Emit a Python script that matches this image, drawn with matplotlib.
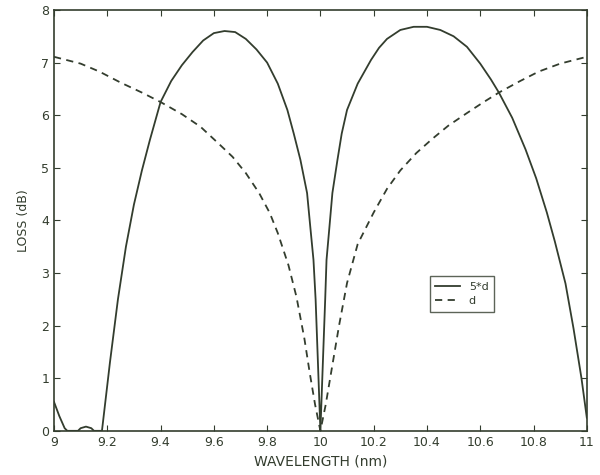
import matplotlib
matplotlib.use("Agg")
import matplotlib.pyplot as plt

wl_d = [9.00, 9.10, 9.17, 9.25, 9.33, 9.40, 9.48, 9.55, 9.62, 9.67, 9.72, 9.77,
        9.81, 9.84, 9.88, 9.91, 9.94, 9.96, 9.98, 10.00, 10.02, 10.04, 10.07,
        10.10, 10.14, 10.20, 10.25, 10.30, 10.36, 10.42, 10.48, 10.55, 10.61,
        10.67, 10.75, 10.82, 10.90, 11.00]
loss_d = [7.11, 6.98, 6.83, 6.62, 6.43, 6.25, 6.02, 5.78, 5.45, 5.21, 4.90, 4.52,
          4.14, 3.76, 3.15, 2.55, 1.75, 1.10, 0.50, 0.00, 0.50, 1.10, 2.00,
          2.81, 3.55, 4.15, 4.60, 4.95, 5.28, 5.55, 5.80, 6.04, 6.24,
          6.43, 6.65, 6.83, 6.98, 7.11]

wl_5d = [9.00, 9.02, 9.04, 9.05, 9.09, 9.10, 9.12, 9.14, 9.15, 9.18, 9.21, 9.24,
         9.27, 9.30, 9.33, 9.36, 9.40, 9.44, 9.48, 9.52, 9.56, 9.60, 9.64, 9.68,
         9.72, 9.76, 9.80, 9.84, 9.876, 9.90, 9.925, 9.95, 9.962, 9.974, 9.982,
         9.99, 10.00, 10.01, 10.018, 10.023, 10.034, 10.045, 10.064, 10.08,
         10.10, 10.14, 10.19, 10.22, 10.25, 10.30, 10.35, 10.40, 10.45, 10.50,
         10.55, 10.60, 10.64, 10.67, 10.72, 10.77, 10.81, 10.85, 10.88, 10.92,
         10.95, 10.98, 11.00]
loss_5d = [0.55, 0.28, 0.05, 0.00, 0.00, 0.05, 0.08, 0.05, 0.00, 0.00, 1.30, 2.50,
           3.50, 4.30, 4.95, 5.53, 6.25, 6.65, 6.95, 7.20, 7.42, 7.56, 7.60, 7.58,
           7.45, 7.25, 7.00, 6.60, 6.10, 5.65, 5.15, 4.52, 3.88, 3.25, 2.50,
           1.40, 0.00, 1.40, 2.50, 3.25, 3.88, 4.52, 5.15, 5.65,
           6.10, 6.60, 7.05, 7.28, 7.45, 7.62, 7.68, 7.68, 7.62, 7.50,
           7.30, 6.98, 6.68, 6.43, 5.95, 5.35, 4.80, 4.15, 3.60, 2.80,
           1.95, 1.00, 0.25]

xticks = [9, 9.2, 9.4, 9.6, 9.8, 10, 10.2, 10.4, 10.6, 10.8, 11]
xticklabels = ["9", "9.2", "9.4", "9.6", "9.8", "10", "10.2", "10.4", "10.6", "10.8", "11"]

ink = "#333d2e"

fig = plt.figure(figsize=(6, 4.75), dpi=100)
ax = fig.add_axes([0.09, 0.093, 0.888, 0.886])

ax.plot(wl_5d, loss_5d, "-", color=ink, lw=1.3, label="5*d")
ax.plot(wl_d, loss_d, "--", color=ink, lw=1.3, dashes=(4, 3), label="d")

ax.set_xlim(9, 11)
ax.set_ylim(0, 8)
ax.set_xticks(xticks)
ax.set_xticklabels(xticklabels)
ax.set_yticks(range(0, 9))
ax.tick_params(direction="in", top=True, right=True, length=4,
               color=ink, labelcolor=ink, labelsize=9)
for s in ax.spines.values():
    s.set_color(ink)
    s.set_linewidth(1.2)

ax.set_xlabel("WAVELENGTH (nm)", color=ink, fontsize=10, labelpad=4)
ax.set_ylabel("LOSS (dB)", color=ink, fontsize=9, labelpad=8)

leg = ax.legend(loc="lower left", bbox_to_anchor=(0.695, 0.27), fontsize=8,
                frameon=True, fancybox=False, edgecolor=ink, handlelength=2.2,
                borderpad=0.5, labelspacing=0.4)
for t in leg.get_texts():
    t.set_color(ink)

fig.savefig("out.png", dpi=100)
